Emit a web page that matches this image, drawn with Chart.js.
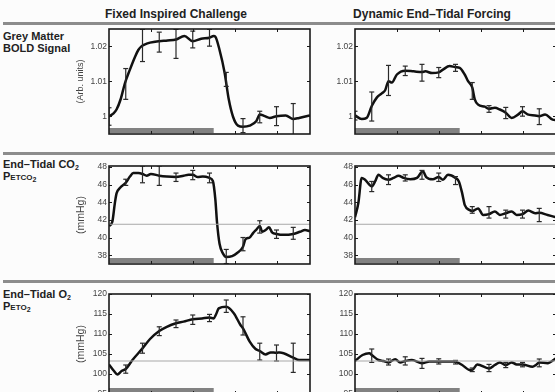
<!DOCTYPE html>
<html>
<head>
<meta charset="utf-8">
<script src="https://cdn.jsdelivr.net/npm/chart.js@4"></script>
<style>
body{margin:0;width:555px;height:392px;overflow:hidden;background:#fcfcfc;position:relative;font-family:'Liberation Sans',Arial,sans-serif;color:#222}
canvas{position:absolute}
.col-title{position:absolute;top:7px;width:300px;text-align:center;font-weight:bold;font-size:12px}
.rule{position:absolute;left:3px;right:0;height:3px;background:#8c8c8c}
.row-label{position:absolute;left:3px;font-weight:bold;font-size:11px;line-height:12px}
.row-label sub{font-size:7px;vertical-align:-2px;line-height:0}
.row-label .sm{font-size:8px}
</style>
</head>
<body>
<div class="col-title" style="left:26px">Fixed Inspired Challenge</div>
<div class="col-title" style="left:282px">Dynamic End–Tidal Forcing</div>
<div class="rule" style="top:22px"></div>
<div class="rule" style="top:152px"></div>
<div class="rule" style="top:280px"></div>
<div class="row-label" style="top:30px">Grey Matter<br>BOLD Signal</div>
<div class="row-label" style="top:158px">End–Tidal CO<sub>2</sub><br>P<span class="sm">ETCO</span><sub>2</sub></div>
<div class="row-label" style="top:288px">End–Tidal O<sub>2</sub><br>P<span class="sm">ETO</span><sub>2</sub></div>

<canvas id="boldFixed" width="237" height="114" style="left:75px;top:24px"></canvas>
<canvas id="boldDyn" width="233" height="114" style="left:325px;top:24px"></canvas>
<canvas id="co2Fixed" width="237" height="107" style="left:75px;top:161px"></canvas>
<canvas id="co2Dyn" width="233" height="107" style="left:325px;top:161px"></canvas>
<canvas id="o2Fixed" width="237" height="109" style="left:75px;top:289px"></canvas>
<canvas id="o2Dyn" width="233" height="109" style="left:325px;top:289px"></canvas>

<script>
// time axis (minutes), challenge period, error bar times
const tRange = [0, 24];
const xTicks = [5, 10, 15, 20];
const challenge = [0, 12.5];
const errT = [0, 2, 4, 6, 8, 10, 12, 14, 16, 18, 20, 22];

const boldTicks = [1, 1.01, 1.02];
const co2Ticks = [38, 40, 42, 44, 46, 48];
const o2Ticks = [95, 100, 105, 110, 115, 120];
const co2Baseline = 41.5;
const o2Baseline = 103.25;

// Grey matter BOLD, fixed inspired
const boldFixedT = [0, 0.5, 0.9, 1.4, 1.9, 2.5, 3.1, 3.5, 3.9, 4.5, 4.9, 6, 7, 8, 9, 10, 11, 12, 12.5, 12.7, 13.2, 13.8, 14.3, 14.8, 15.4, 16, 16.8, 17.6, 18, 18.6, 19.2, 20, 21.1, 22, 22.7, 24];
const boldFixedV = [1.000, 1.0008, 1.002, 1.005, 1.0095, 1.0134, 1.017, 1.019, 1.0201, 1.0208, 1.0211, 1.0215, 1.0217, 1.022, 1.023, 1.0215, 1.0222, 1.0225, 1.023, 1.0228, 1.019, 1.0126, 1.0049, 1.0, 0.9974, 0.9971, 0.9974, 0.9987, 1.0006, 1.0001, 0.9996, 1.0001, 1.0003, 0.9993, 0.9996, 1.0003];
const boldFixedLo = [0.9975, 1.0049, 1.0157, 1.0184, 1.0166, 1.0196, 1.0201, 1.0086, 0.9954, 0.9982, 0.9974, 0.9944];
const boldFixedHi = [1.0025, 1.0137, 1.0249, 1.0241, 1.0249, 1.0244, 1.0249, 1.0126, 0.9994, 1.0015, 1.0028, 1.0037];

// Grey matter BOLD, dynamic end-tidal
const boldDynT = [0, 0.8, 1.4, 2, 2.6, 3.2, 3.6, 4, 4.4, 5, 6, 7, 8, 8.4, 9.2, 10, 10.5, 11.3, 12, 12.5, 13.1, 13.5, 14, 14.3, 14.7, 15.5, 16, 16.7, 17.3, 18, 18.7, 19.5, 20, 20.6, 21.5, 22, 22.7, 23.6, 24];
const boldDynV = [1.0003, 0.9993, 0.9996, 1.003, 1.0054, 1.0066, 1.0075, 1.0101, 1.0097, 1.012, 1.0131, 1.0129, 1.0127, 1.0129, 1.0124, 1.0126, 1.0134, 1.0144, 1.0141, 1.0139, 1.012, 1.0101, 1.0083, 1.0049, 1.0034, 1.0028, 1.0022, 1.0025, 1.002, 1.0011, 0.9996, 1.0006, 1.0015, 1.0006, 1.0003, 1.0001, 1.0006, 0.9991, 0.999];
const boldDynLo = [0.999, 0.9987, 1.006, 1.0117, 1.0101, 1.0111, 1.0129, 1.0049, 1.0012, 0.9994, 1.0001, 0.9977];
const boldDynHi = [1.0015, 1.007, 1.0146, 1.0144, 1.0149, 1.014, 1.0149, 1.0097, 1.0031, 1.0026, 1.0028, 1.0022];

// End-tidal CO2, fixed inspired
const co2FixedT = [0, 0.4, 0.7, 0.9, 1.3, 2, 2.5, 2.9, 3.5, 4, 4.5, 5, 6, 6.9, 8, 8.9, 9.5, 10, 10.6, 11.2, 12, 12.4, 12.7, 12.9, 13.2, 13.6, 14, 14.7, 15.3, 16, 16.3, 16.8, 17.2, 17.6, 18, 18.3, 18.7, 19.1, 19.5, 20, 20.8, 22, 22.8, 23.4, 24];
const co2FixedV = [41.3, 41.8, 43.9, 45.0, 45.6, 46.2, 46.9, 47.3, 47.3, 47.2, 47.0, 47.2, 47.0, 46.9, 46.85, 47.0, 47.1, 47.1, 46.85, 46.9, 46.75, 46.4, 44.3, 41.7, 39.3, 38.2, 37.8, 37.9, 38.25, 38.95, 39.8, 40.0, 40.5, 40.9, 41.3, 40.65, 40.85, 41.15, 40.55, 40.4, 40.3, 40.4, 40.65, 40.85, 40.7];
const co2FixedLo = [null, 45.9, 46.2, 45.9, 46.35, 46.55, 46.2, 37.05, 38.5, 40.5, 39.9, 39.8];
const co2FixedHi = [null, 46.6, 48.1, 48.1, 47.3, 47.6, 47.3, 38.65, 40.0, 41.9, 40.85, 41.15];

// End-tidal CO2, dynamic end-tidal
const co2DynT = [0, 0.4, 0.8, 1.2, 2, 2.4, 2.8, 3.3, 4, 4.6, 5.2, 5.8, 6.6, 7.4, 8.1, 8.5, 9.3, 10, 10.5, 11.1, 12, 12.4, 12.8, 13.1, 13.7, 14, 14.7, 15.3, 16, 16.7, 17.3, 18, 18.7, 19.3, 20, 20.7, 21.5, 22, 23, 24];
const co2DynV = [42.3, 43.9, 46.75, 46.55, 45.8, 46.35, 47.1, 46.75, 46.55, 46.75, 47.0, 46.75, 46.6, 46.75, 47.5, 46.85, 46.6, 46.85, 46.55, 47.1, 46.75, 46.35, 45.0, 43.7, 43.1, 43.0, 43.3, 42.55, 42.65, 42.95, 42.55, 42.75, 42.95, 42.55, 42.65, 43.05, 42.75, 42.8, 42.55, 42.3];
const co2DynLo = [null, 45.2, 46.0, 46.4, 46.6, 46.35, 46.0, 42.75, 42.2, 42.2, 42.2, 41.8];
const co2DynHi = [null, 46.35, 47.1, 47.1, 47.6, 47.3, 46.9, 43.5, 43.5, 43.1, 43.1, 43.3];

// End-tidal O2, fixed inspired
const o2FixedT = [0, 0.6, 1, 1.5, 2, 2.8, 4, 4.9, 6, 6.9, 8, 8.9, 10, 11.1, 12, 12.5, 12.8, 13.1, 14, 14.9, 15.7, 16, 16.8, 17.5, 18, 18.7, 19.3, 20, 20.4, 22, 22.7, 24];
const o2FixedV = [102.4, 100.75, 99.9, 100.75, 101.25, 103.5, 106.4, 108.75, 110.75, 111.8, 112.7, 113.1, 113.7, 113.9, 114.1, 113.9, 115.0, 116.4, 116.8, 115.2, 112.25, 111.4, 108.1, 106.25, 105.75, 104.9, 105.4, 105.3, 105.4, 104.1, 103.5, 103.5];
const o2FixedLo = [null, 100.2, 105.2, 109.6, 111.6, 112.4, 113.1, 115.4, 109.75, 103.5, 103.25, 100.4];
const o2FixedHi = [null, 102.25, 107.7, 111.8, 113.5, 114.75, 114.9, 118.5, 114.3, 107.7, 107.25, 107.7];

// End-tidal O2, dynamic end-tidal
const o2DynT = [0, 0.9, 1.7, 2, 2.8, 3.4, 4, 4.8, 5.4, 6, 6.8, 8, 8.9, 10, 11.8, 12.2, 12.8, 13.7, 14, 14.6, 16, 16.7, 17.3, 18, 18.7, 19.3, 20, 21.2, 21.6, 22, 23, 24];
const o2DynV = [103.25, 104.75, 105.2, 104.75, 103.5, 103.25, 102.9, 103.7, 102.9, 103.25, 103.5, 102.7, 103.1, 103.1, 103.1, 102.9, 102.25, 101.0, 101.0, 102.4, 101.4, 102.25, 102.9, 102.25, 102.9, 102.4, 102.4, 101.8, 102.25, 102.9, 102.7, 103.9];
const o2DynLo = [null, 102.9, 102.25, 102.25, 101.4, 102.5, 102.5, 100.6, 100.6, 101.6, 101.8, 101.8];
const o2DynHi = [null, 106.25, 103.75, 104.3, 103.9, 103.8, 103.4, 101.5, 102.4, 102.9, 102.9, 103.75];

// bar for the challenge period, box frame and inward ticks
const framePlugin = {
  id: 'frame',
  beforeDatasetsDraw(chart) {
    const {ctx, chartArea: a, scales: {x}} = chart;
    const x0 = x.getPixelForValue(challenge[0]);
    const x1 = x.getPixelForValue(challenge[1]);
    ctx.save();
    ctx.fillStyle = '#828282';
    ctx.fillRect(x0, a.bottom - 6, x1 - x0, 5);
    ctx.restore();
  },
  afterDraw(chart) {
    const {ctx, chartArea: a, scales: {x, y}} = chart;
    ctx.save();
    ctx.strokeStyle = '#1a1a1a';
    ctx.lineWidth = 1;
    ctx.beginPath();
    xTicks.forEach(function(v) {
      const px = Math.round(x.getPixelForValue(v)) + 0.5;
      ctx.moveTo(px, a.top); ctx.lineTo(px, a.top + 3);
      ctx.moveTo(px, a.bottom); ctx.lineTo(px, a.bottom - 3);
    });
    y.ticks.forEach(function(t) {
      const py = Math.round(y.getPixelForValue(t.value)) + 0.5;
      ctx.moveTo(a.left, py); ctx.lineTo(a.left + 3, py);
      ctx.moveTo(a.right, py); ctx.lineTo(a.right - 3, py);
    });
    ctx.stroke();
    ctx.lineWidth = 1.6;
    ctx.strokeRect(a.left, a.top, a.width, a.height);
    ctx.restore();
  }
};

function points(ts, vs) {
  return ts.map(function(t, i) { return {x: t, y: vs[i]}; });
}

function errorPoints(lo, hi) {
  const out = [];
  errT.forEach(function(t, i) {
    if (lo[i] === null) return;
    out.push({x: t, y: lo[i]}, {x: t, y: hi[i]}, {x: t, y: null});
  });
  return out;
}

function makePanel(id, o) {
  const datasets = [];
  if (o.baseline !== undefined) {
    datasets.push({
      data: [{x: tRange[0], y: o.baseline}, {x: tRange[1], y: o.baseline}],
      borderColor: '#a8a8a8', borderWidth: 1, pointRadius: 0
    });
  }
  datasets.push({
    data: errorPoints(o.lo, o.hi),
    borderColor: '#2a2a2a', borderWidth: 1.2,
    pointStyle: 'line', pointRadius: 2.5, pointBorderWidth: 1.2,
    pointBorderColor: '#2a2a2a', spanGaps: false
  });
  datasets.push({
    data: points(o.t, o.v),
    borderColor: '#111', borderWidth: 2.5, pointRadius: 0,
    cubicInterpolationMode: 'monotone', borderJoinStyle: 'round'
  });

  new Chart(document.getElementById(id), {
    type: 'line',
    data: {datasets: datasets},
    plugins: [framePlugin],
    options: {
      responsive: false,
      animation: false,
      layout: {autoPadding: false, padding: {top: 5, bottom: 4, left: 0, right: 2}},
      plugins: {legend: {display: false}, tooltip: {enabled: false}},
      scales: {
        x: {type: 'linear', min: tRange[0], max: tRange[1], display: false},
        y: {
          min: o.min, max: o.max,
          afterBuildTicks: function(s) { s.ticks = o.ticks.map(function(v) { return {value: v}; }); },
          afterFit: function(s) { s.width = o.axisWidth; s.paddingTop = 0; s.paddingBottom = 0; },
          grid: {drawOnChartArea: false, drawTicks: false},
          border: {display: false},
          ticks: {
            padding: 2, color: '#444',
            font: {family: "'Liberation Sans', Arial, sans-serif", size: 8.5},
            callback: function(v) { return String(v); }
          },
          title: {
            display: !!o.title, text: o.title || '', color: '#444', padding: 0,
            font: {family: "'Liberation Sans', Arial, sans-serif", size: o.titleSize || 9}
          }
        }
      }
    }
  });
}

makePanel('boldFixed', {t: boldFixedT, v: boldFixedV, lo: boldFixedLo, hi: boldFixedHi,
  min: 0.995, max: 1.025, ticks: boldTicks, axisWidth: 34, title: '(Arb. units)', titleSize: 9});
makePanel('boldDyn', {t: boldDynT, v: boldDynV, lo: boldDynLo, hi: boldDynHi,
  min: 0.995, max: 1.025, ticks: boldTicks, axisWidth: 30});
makePanel('co2Fixed', {t: co2FixedT, v: co2FixedV, lo: co2FixedLo, hi: co2FixedHi,
  min: 37, max: 48.1, ticks: co2Ticks, axisWidth: 34, title: '(mmHg)', titleSize: 10.5, baseline: co2Baseline});
makePanel('co2Dyn', {t: co2DynT, v: co2DynV, lo: co2DynLo, hi: co2DynHi,
  min: 37, max: 48.1, ticks: co2Ticks, axisWidth: 30, baseline: co2Baseline});
makePanel('o2Fixed', {t: o2FixedT, v: o2FixedV, lo: o2FixedLo, hi: o2FixedHi,
  min: 95, max: 120, ticks: o2Ticks, axisWidth: 34, title: '(mmHg)', titleSize: 10.5, baseline: o2Baseline});
makePanel('o2Dyn', {t: o2DynT, v: o2DynV, lo: o2DynLo, hi: o2DynHi,
  min: 95, max: 120, ticks: o2Ticks, axisWidth: 30, baseline: o2Baseline});
</script>
</body>
</html>
